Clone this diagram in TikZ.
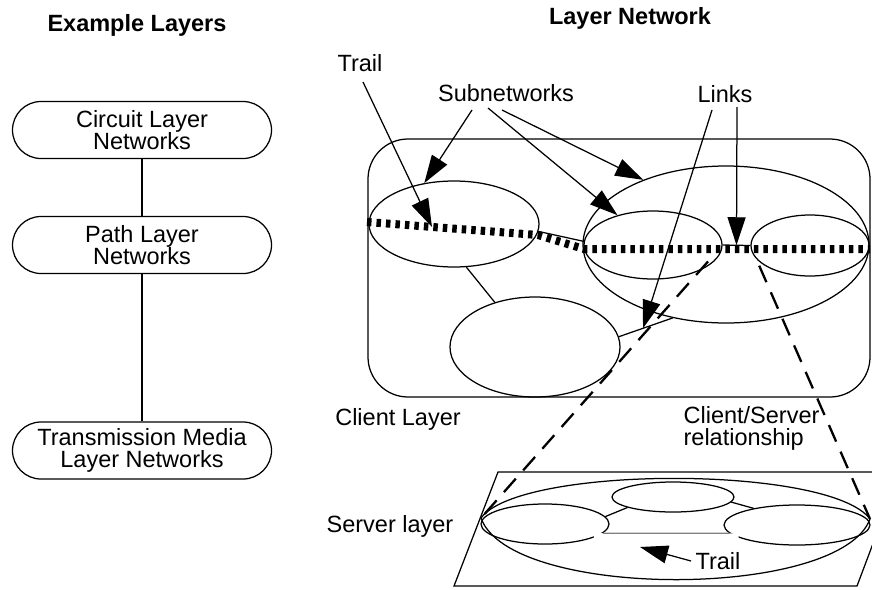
\documentclass[tikz,border=0pt]{standalone}
\usepackage{fontspec}
\setmainfont{Liberation Sans}
\usetikzlibrary{arrows.meta,shapes.geometric,calc}
\begin{document}
\begin{tikzpicture}[x=1pt,y=-1pt,line width=1.25pt,
  lbl/.style={font=\fontsize{23.5}{22}\selectfont, inner sep=0pt},
  ttl/.style={font=\fontsize{23.5}{22}\selectfont\bfseries, inner sep=0pt},
  layerbox/.style={draw, rounded corners=28.5pt, minimum width=259pt,
    minimum height=57pt, align=center, font=\fontsize{23.5}{22}\selectfont, inner sep=0pt},
  subnet/.style={draw, ellipse, inner sep=0pt},
  arr/.style={-{Triangle[length=28pt,width=18pt]}},
  trailline/.style={line width=8pt, dash pattern=on 4.5pt off 5pt},
  csline/.style={line width=2.3pt, dash pattern=on 18pt off 11pt}]

\fill[white] (0,0) rectangle (872,589);
\useasboundingbox (0,0) rectangle (872,589);

% ---- left column: example layers ----
\node[ttl] (extitle) at (137,25) {Example Layers};
\node[layerbox] (circ) at (142,130) {Circuit Layer\\Networks};
\node[layerbox] (path) at (142,245) {Path Layer\\Networks};
\node[layerbox] (trans) at (142,450.5) {Transmission Media\\Layer Networks};
\draw (circ.south) -- (path.north);
\draw (path.south) -- (trans.north);

% ---- right column: layer network ----
\node[ttl] (lntitle) at (630,18) {Layer Network};

% client layer
\node[draw, rounded corners=40pt, minimum width=502pt, minimum height=258pt] (client) at (619,268) {};
\node[subnet, minimum width=170pt, minimum height=86pt] (E1) at (454,224) {};
\node[subnet, minimum width=286pt, minimum height=157pt] (G) at (726,244.5) {};
\node[subnet, minimum width=138pt, minimum height=68pt] (E2) at (653,245) {};
\node[subnet, minimum width=118pt, minimum height=61pt] (E3) at (810,245.5) {};
\node[subnet, minimum width=170pt, minimum height=100pt] (B) at (535,347) {};

% links between subnetworks
\draw (E1.-74) -- (B.132);
\draw (E1.-5) -- (E2.177);
\draw (B.7) -- (G.-126);
\draw (E2.east) -- (E3.west);

% trail through the client layer
\coordinate (tr0) at (367,222);
\coordinate (tr1) at (538,235);
\coordinate (tr2) at (584,249);
\coordinate (tr3) at (870,249);
\draw[trailline] (tr0) -- (tr1) -- (tr2) -- (tr3);

% server layer
\begin{scope}
\clip (0,0) rectangle (872,589);
\draw (498,472) -- (900,472) -- (857,586) -- (454,586) -- cycle;
\end{scope}
\coordinate (srvL) at (481,518);
\coordinate (srvR) at (870,519);
\draw (srvL) .. controls (520,465) and (830,465) .. (srvR)
             .. controls (840,600) and (510,600) .. (srvL);
\node[subnet, minimum width=122pt, minimum height=30pt] (S1) at (673,497) {};
\node[subnet, minimum width=128pt, minimum height=40pt] (S2) at (545,524) {};
\node[subnet, minimum width=146pt, minimum height=40pt] (S3) at (797,525) {};
\draw (S2.7) -- (S1.193);
\draw (S1.-5) -- (S3.159);
\draw[white, line width=8pt] ([shift={(-9,4)}]S2.-9) -- ([shift={(9,4)}]S3.187);
\draw[black!50] (S2.-9) -- (S3.187);

% client/server relationship
\draw[csline, shorten <=22pt] (E2.east) -- (srvL);
\draw[csline, shorten <=22pt] (E3.west) -- (srvR);

% labels
\node[lbl] (trailA) at (360,63) {Trail};
\node[lbl] (subn) at (506,93) {Subnetworks};
\node[lbl] (links) at (725,94) {Links};
\node[lbl] (clientlbl) at (398,419) {Client Layer};
\node[lbl, align=left, anchor=west] (cslbl) at (683,428) {Client/Server\\relationship};
\node[lbl] (serverlbl) at (390,526) {Server layer};
\node[lbl] (trailB) at (718,561) {Trail};

% pointer arrows
\coordinate (tTail) at (363,82);
\coordinate (sTailA) at (472,110);
\coordinate (sTailB) at (488,108);
\coordinate (sTailC) at (502,110);
\coordinate (lTailA) at (712,110);
\coordinate (lTailB) at (737,107);
\coordinate (trailTip) at ($(tr0)!0.38!(tr1)$);
\coordinate (linkMid) at ($(E2.east)!0.5!(E3.west)$);
\coordinate (linkLow) at ($(B.7)!0.45!(G.-126)$);
\coordinate (srvTrailTip) at (640,547);

\draw[arr] (tTail) -- (trailTip);
\draw[arr] (sTailA) -- (E1.126);
\draw[arr] (sTailB) -- (E2.140);
\draw[arr] (sTailC) -- (G.142);
\draw[arr] (lTailA) -- (linkLow);
\draw[arr] (lTailB) -- (linkMid);
\draw[arr] ([xshift=-4pt]trailB.west) -- (srvTrailTip);
\end{tikzpicture}
\end{document}
